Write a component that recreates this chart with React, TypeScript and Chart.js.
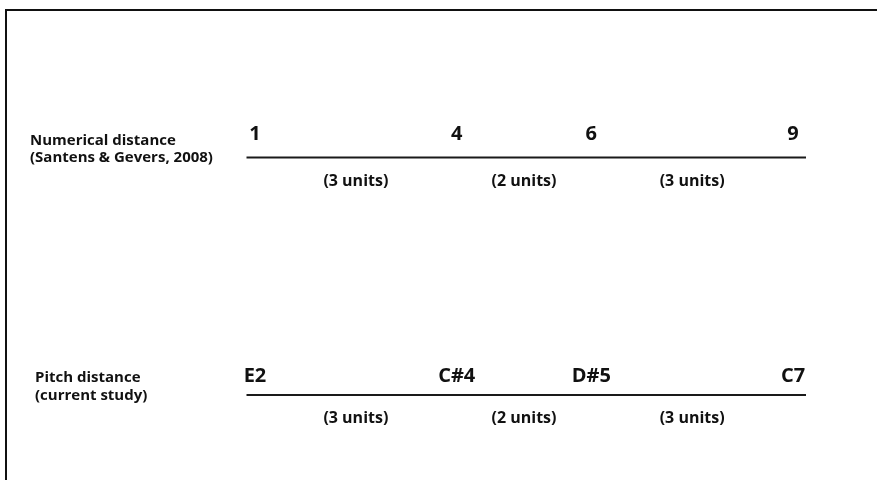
import React, { useEffect, useRef } from "react";
import { Chart, registerables } from "chart.js";

Chart.register(...registerables);

// ---- data ----
const rowTitles = ["Numerical distance", "Pitch distance"];
const rowSubtitles = ["(Santens & Gevers, 2008)", "(current study)"];
const rowLevels = [1, 0];
const numberValues = [1, 4, 6, 9];
const numberLabels = ["1", "4", "6", "9"];
const pitchValues = [1, 4, 6, 9];
const pitchLabels = ["E2", "C#4", "D#5", "C7"];
const numberUnitLabels = ["(3 units)", "(2 units)", "(3 units)"];
const pitchUnitLabels = ["(3 units)", "(2 units)", "(3 units)"];
const axisStart = 0.874;
const axisEnd = 9.193;

const rowValues = [numberValues, pitchValues];
const rowTickLabels = [numberLabels, pitchLabels];
const rowUnitLabels = [numberUnitLabels, pitchUnitLabels];

// ---- styles ----
const FONT = '"Open Sans", "DejaVu Sans", sans-serif';
const TEXT_COLOR = "#111";
const titleX = [30, 35];
const tickOffset = [17.5, 13.5];

const textPlugin = {
  id: "numberLineText",
  beforeDraw(chart: any) {
    const ctx = chart.ctx;
    ctx.save();
    ctx.fillStyle = "#fff";
    ctx.fillRect(0, 0, chart.width, chart.height);
    ctx.fillStyle = "#111";
    ctx.fillRect(5, 9, chart.width - 5, 2);
    ctx.fillRect(5, 9, 2, chart.height - 9);
    ctx.restore();
  },
  afterDatasetsDraw(chart: any) {
    const ctx = chart.ctx;
    const xs = chart.scales.x;
    const ys = chart.scales.y;
    ctx.save();
    ctx.fillStyle = TEXT_COLOR;
    rowLevels.forEach((lvl, i) => {
      const y = ys.getPixelForValue(lvl);
      // row title
      ctx.font = `bold 15px ${FONT}`;
      ctx.textAlign = "left";
      ctx.textBaseline = "alphabetic";
      ctx.fillText(rowTitles[i], titleX[i], y - 13);
      ctx.fillText(rowSubtitles[i], titleX[i], y + 4.5);
      // tick labels
      ctx.font = `bold 20px ${FONT}`;
      ctx.textAlign = "center";
      rowValues[i].forEach((v, j) => {
        ctx.fillText(rowTickLabels[i][j], xs.getPixelForValue(v), y - tickOffset[i]);
      });
      // unit labels
      ctx.font = `bold 16px ${FONT}`;
      for (let j = 0; j < rowValues[i].length - 1; j++) {
        const mid = (rowValues[i][j] + rowValues[i][j + 1]) / 2;
        ctx.fillText(rowUnitLabels[i][j], xs.getPixelForValue(mid), y + 28);
      }
    });
    ctx.restore();
  },
};

export default function App() {
  const ref = useRef<HTMLCanvasElement | null>(null);
  useEffect(() => {
    if (!ref.current) return;
    const chart = new Chart(ref.current, {
      type: "scatter",
      data: {
        datasets: rowLevels.map((lvl) => ({
          data: [
            { x: axisStart, y: lvl },
            { x: axisEnd, y: lvl },
          ],
          showLine: true,
          borderColor: "#1a1a1a",
          borderWidth: 2,
          pointRadius: 0,
          clip: false as any,
        })),
      },
      options: {
        animation: false,
        responsive: false,
        events: [],
        layout: { padding: { left: 246.5, right: 71, top: 110, bottom: 37.5 } },
        plugins: { legend: { display: false }, tooltip: { enabled: false } },
        scales: {
          x: { type: "linear", min: axisStart, max: axisEnd, display: false },
          y: { type: "linear", min: -0.2, max: 1.2, display: false },
        },
      },
      plugins: [textPlugin],
    });
    return () => chart.destroy();
  }, []);
  return (
    <div style={{ position: "fixed", left: 0, top: 0, width: 877, height: 480, background: "#fff" }}>
      <canvas ref={ref} width={877} height={480} style={{ width: 877, height: 480, display: "block" }} />
    </div>
  );
}
